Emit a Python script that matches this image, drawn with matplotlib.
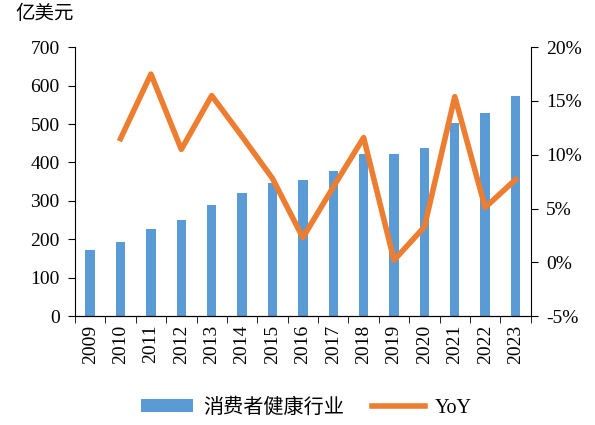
import numpy as np
import matplotlib.pyplot as plt
from matplotlib.ticker import FuncFormatter

plt.rcParams['font.family'] = ['Liberation Serif', 'Noto Sans CJK SC']

years = [str(y) for y in range(2009, 2024)]
market = [172, 193, 226, 250, 290, 321, 347, 354, 379, 423, 423, 437, 504, 530, 572]
yoy = [np.nan, 11.5, 17.5, 10.5, 15.5, 11.7, 7.8, 2.3, 7.0, 11.6, 0.2, 3.3, 15.4, 5.1, 7.7]

blue = '#5B9BD5'
orange = '#ED7D31'

fig = plt.figure(figsize=(5.95, 4.25), dpi=100)
ax = fig.add_axes([0.126, 0.256, 0.766, 0.633])
x = np.arange(len(years))

ax.bar(x, market, width=0.31, color=blue, label='消费者健康行业', zorder=2)
ax.set_xlim(-0.5, len(years) - 0.5)
ax.set_ylim(0, 700)
ax.set_yticks(range(0, 701, 100))
ax.set_xticks(x)
ax.set_xticklabels(years, rotation=90, fontsize=14)
ax.set_xticks(np.arange(-0.5, len(years), 1), minor=True)
ax.tick_params(axis='x', which='major', length=0, pad=6)
ax.tick_params(axis='x', which='minor', length=5, direction='out')
ax.tick_params(axis='y', labelsize=14, length=5, direction='out', pad=6)
ax.spines['top'].set_visible(False)
ax.spines['right'].set_visible(False)

ax2 = ax.twinx()
ax2.plot(x, yoy, color=orange, linewidth=4, label='YoY', zorder=3)
ax2.set_ylim(-5, 20)
ax2.set_yticks(range(-5, 21, 5))
ax2.yaxis.set_major_formatter(FuncFormatter(lambda v, p: f'{v:.0f}%'))
ax2.tick_params(axis='y', labelsize=14, length=5, direction='out', pad=6)
ax2.spines['top'].set_visible(False)
ax2.spines['left'].set_visible(False)

fig.text(0.025, 0.968, '亿美元', fontsize=14, family=['Noto Sans CJK SC'], va='center', ha='left')

h1, l1 = ax.get_legend_handles_labels()
h2, l2 = ax2.get_legend_handles_labels()
fig.legend(h1 + h2, l1 + l2, loc='center', bbox_to_anchor=(0.515, 0.04), ncol=2,
           frameon=False, handlelength=2.6, handleheight=0.6, handletextpad=0.5,
           columnspacing=1.4,
           prop={'family': ['Liberation Serif', 'Noto Sans CJK SC'], 'size': 14.5})

fig.savefig('out.png', dpi=100)
